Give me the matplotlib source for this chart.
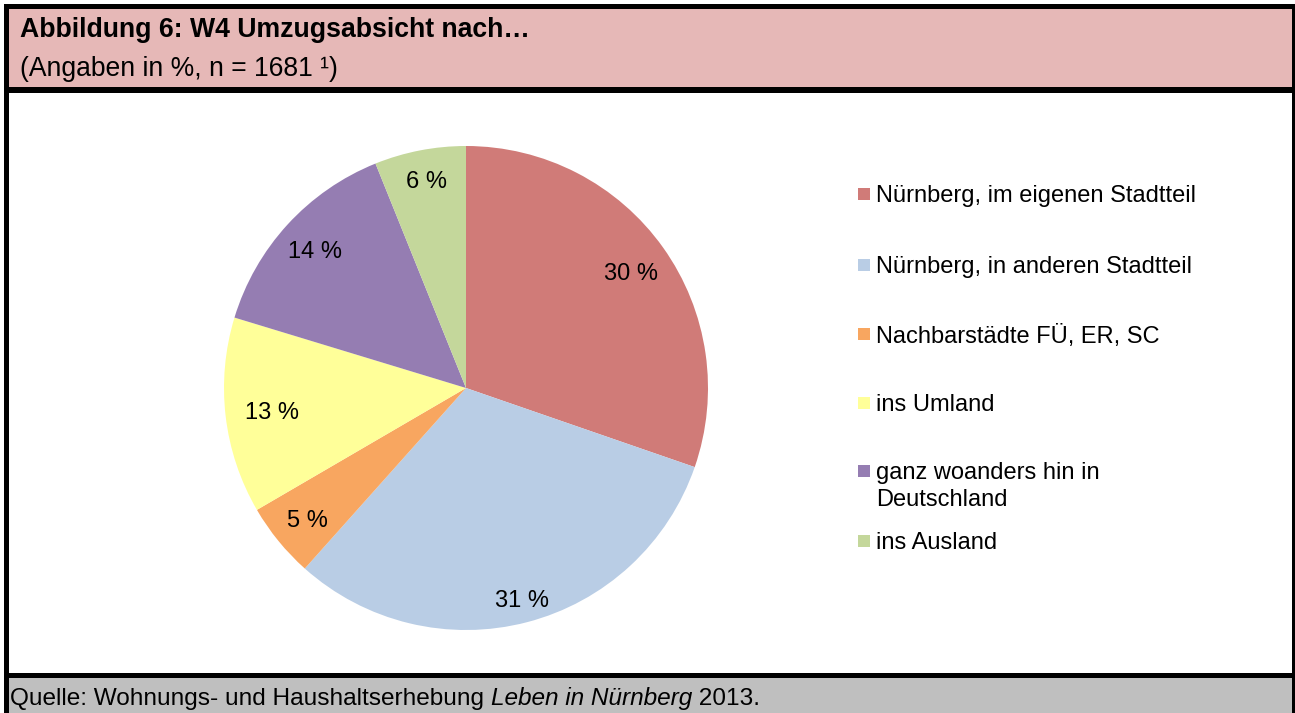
import matplotlib.pyplot as plt
from matplotlib.patches import Rectangle
import numpy as np

plt.rcParams['font.family'] = ['Liberation Sans', 'DejaVu Sans']

# Daten
kategorien = [
    "Nürnberg, im eigenen Stadtteil",
    "Nürnberg, in anderen Stadtteil",
    "Nachbarstädte FÜ, ER, SC",
    "ins Umland",
    "ganz woanders hin in\nDeutschland",
    "ins Ausland",
]
anteile = [30.3, 31.3, 5.0, 13.1, 14.2, 6.1]
farben = ["#D07B78", "#B9CDE5", "#F8A660", "#FFFF99", "#957DB2", "#C4D79B"]

titel = "Abbildung 6: W4 Umzugsabsicht nach…"
untertitel = "(Angaben in %, n = 1681 ¹)"
quelle = ["Quelle: Wohnungs- und Haushaltserhebung ", "Leben in Nürnberg", " 2013."]

W, H = 1295, 713
fig = plt.figure(figsize=(W / 100, H / 100), dpi=100)

# Hintergrund-Achse in Pixelkoordinaten
bg = fig.add_axes([0, 0, 1, 1])
bg.set_xlim(0, W)
bg.set_ylim(H, 0)
bg.axis('off')

bg.add_patch(Rectangle((4, 4), W - 4, H - 4, color='black', lw=0))
bg.add_patch(Rectangle((9, 9), 1283, 78, color='#E6B8B7', lw=0))
bg.add_patch(Rectangle((9, 93), 1283, 580, color='white', lw=0))
bg.add_patch(Rectangle((9, 678), 1283, 40, color='#BFBFBF', lw=0))

bg.text(20, 30, titel, fontsize=19.2, fontweight='bold', va='center')
bg.text(20, 69, untertitel, fontsize=19.1, va='center')

t = bg.text(10, 699, quelle[0], fontsize=17.6, va='center')
t = bg.annotate(quelle[1], xy=(1, 0), xycoords=t, va='bottom', fontsize=17.6, style='italic')
bg.annotate(quelle[2], xy=(1, 0), xycoords=t, va='bottom', fontsize=17.6)

# Legende
legend_y = [194, 265, 334, 403, 471, 541]
for lab, col, y in zip(kategorien, farben, legend_y):
    bg.add_patch(Rectangle((858, y - 6), 12, 12, color=col, lw=0))
    bg.text(876, y - 9, lab, fontsize=17, va='top', linespacing=1.3)

# Kreisdiagramm
cx, cy, r = 466, 388, 242
ax = fig.add_axes([(cx - r) / W, (H - cy - r) / H, 2 * r / W, 2 * r / H])
wedges, texts, autotexts = ax.pie(
    anteile, colors=farben, startangle=90, counterclock=False,
    autopct='%.0f %%', pctdistance=0.85, radius=1,
    wedgeprops=dict(linewidth=0), textprops=dict(fontsize=17),
)
dist = [0.83, 0.9, 0.85, 0.81, 0.85, 0.88]
for w, at, d in zip(wedges, autotexts, dist):
    ang = np.deg2rad((w.theta1 + w.theta2) / 2)
    at.set_position((d * np.cos(ang) + 0.004, d * np.sin(ang) - 0.011))
ax.set_xlim(-1, 1)
ax.set_ylim(-1, 1)

fig.savefig("out.png", dpi=100)
